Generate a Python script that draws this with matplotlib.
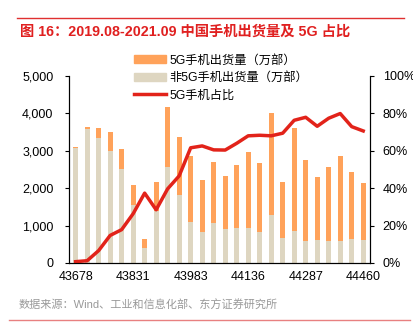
import matplotlib
matplotlib.use("Agg")
import matplotlib.pyplot as plt
import numpy as np
from matplotlib.lines import Line2D
from matplotlib.patches import Patch

plt.rcParams['font.family'] = ['Liberation Sans', 'Noto Sans CJK SC', 'DejaVu Sans']

# 数据 (万部), 2019.08 - 2021.09
total = [3090, 3620, 3600, 3490, 3040, 2070, 630, 2170, 4170, 3370, 2860, 2220, 2690,
         2330, 2610, 2960, 2660, 4010, 2170, 3610, 2750, 2290, 2560, 2860, 2420, 2140]
non5g = [3060, 3590, 3340, 2980, 2500, 1540, 400, 1390, 2550, 1810, 1100, 830, 1070,
         920, 930, 930, 830, 1290, 670, 850, 600, 620, 590, 580, 650, 620]
share = [0.7, 1.2, 6.6, 14.7, 17.8, 26.3, 37.3, 28.4, 39.6, 46.5, 61.5, 62.5, 60.4,
         60.3, 63.9, 67.9, 68.2, 67.9, 69.3, 76.2, 77.8, 73.0, 77.3, 79.8, 72.8, 70.5]
g5 = [t - n for t, n in zip(total, non5g)]
tick_idx = [0, 5, 10, 15, 20, 25]
tick_labels = ['43678', '43831', '43983', '44136', '44287', '44460']

orange = '#FFA25A'
beige = '#DED6C1'
red = '#E2231A'

fig = plt.figure(figsize=(4.14, 3.35), dpi=100)
ax = fig.add_axes([0.166, 0.215, 0.728, 0.559])
x = np.arange(len(total))
ax.bar(x, non5g, width=0.45, color=beige)
ax.bar(x, g5, width=0.45, bottom=non5g, color=orange)
ax.set_ylim(0, 5000)
ax.set_xlim(-0.6, len(total) - 0.4)
ax.set_yticks(range(0, 5001, 1000))
ax.set_yticklabels([f'{v:,}' for v in range(0, 5001, 1000)])
ax.set_xticks(tick_idx)
ax.set_xticklabels(tick_labels)
ax.tick_params(axis='x', length=0, labelsize=9, pad=6)
ax.tick_params(axis='y', length=3, labelsize=9, direction='out', pad=8)
ax.spines['top'].set_visible(False)

ax2 = ax.twinx()
ax2.plot(x, share, color=red, lw=2.5)
ax2.set_ylim(0, 100)
ax2.set_yticks(range(0, 101, 20))
ax2.set_yticklabels([f'{v}%' for v in range(0, 101, 20)])
ax2.tick_params(axis='y', length=3, labelsize=9, direction='out', pad=6)
ax2.spines['top'].set_visible(False)

handles = [Patch(color=orange), Patch(color=beige), Line2D([], [], color=red, lw=2.5)]
labels = ['5G手机出货量（万部）', '非5G手机出货量（万部）', '5G手机占比']
fig.legend(handles, labels, loc='upper left', bbox_to_anchor=(0.312, 0.852),
           frameon=False, fontsize=8.8, handlelength=2.6, handleheight=0.6,
           labelspacing=0.45, borderaxespad=0, handletextpad=0.3)

fig.add_artist(Line2D([0.041, 0.976], [0.946, 0.946], color='#E03030', lw=1))
fig.text(0.048, 0.904, '图 16：2019.08-2021.09 中国手机出货量及 5G 占比',
         color='#E02020', fontsize=10.3, fontweight='bold', va='center')
fig.text(0.046, 0.09, '数据来源：Wind、工业和信息化部、东方证券研究所',
         color='#999999', fontsize=8, va='center')
fig.add_artist(Line2D([0.022, 0.99], [0.045, 0.045], color='#E88080', lw=1))

fig.savefig('out.png', dpi=100)
